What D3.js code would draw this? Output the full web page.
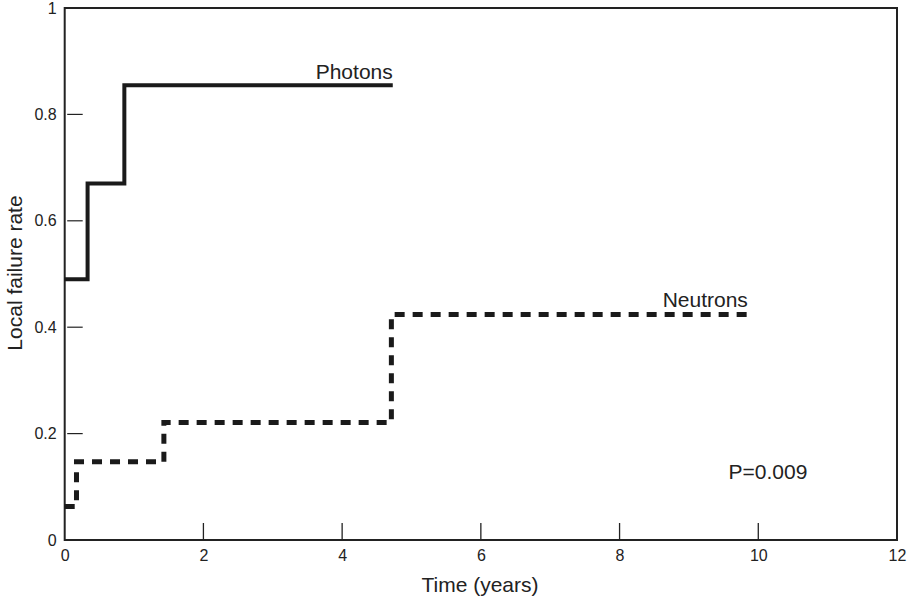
<!DOCTYPE html>
<html>
<head>
<meta charset="utf-8">
<script src="https://cdn.jsdelivr.net/npm/d3@7"></script>
<style>
  body { margin: 0; background: #fff; }
  text { font-family: "Liberation Sans", Arial, sans-serif; fill: #222; }
</style>
</head>
<body>
<svg width="909" height="602"></svg>
<script>
// step data
var photonTimes = [0, 0.33, 0.86, 4.73];
var photonRates = [0.49, 0.67, 0.855, 0.855];
var neutronTimes = [0, 0.17, 1.43, 4.71, 9.85];
var neutronRates = [0.063, 0.147, 0.221, 0.424, 0.424];

var xTicks = [0, 2, 4, 6, 8, 10, 12];
var yTicks = [0, 0.2, 0.4, 0.6, 0.8, 1];

var svg = d3.select("svg");
var ink = "#222";

var xscale = d3.scaleLinear().domain([0, 12]).range([64.7, 897]);
var yscale = d3.scaleLinear().domain([0, 1]).range([540, 8]);

// frame
svg.append("rect")
  .attr("x", xscale(0))
  .attr("y", yscale(1))
  .attr("width", xscale(12) - xscale(0))
  .attr("height", yscale(0) - yscale(1))
  .attr("fill", "none")
  .attr("stroke", ink)
  .attr("stroke-width", 2);

// x axis labels + inner ticks
var xAxis = svg.append("g")
  .attr("transform", "translate(0," + yscale(0) + ")")
  .call(d3.axisBottom(xscale).tickValues(xTicks).tickSize(0).tickPadding(10)
    .tickFormat(d3.format("d")));
xAxis.select(".domain").remove();
xAxis.selectAll("text").attr("font-size", 16).style("fill", ink);

svg.selectAll(".xtick")
  .data(xTicks.filter(function (d) { return d > 0 && d < 12; }))
  .enter().append("line")
  .attr("x1", function (d) { return xscale(d); })
  .attr("x2", function (d) { return xscale(d); })
  .attr("y1", yscale(0))
  .attr("y2", yscale(0) - 17)
  .attr("stroke", ink)
  .attr("stroke-width", 1.3);

// y axis labels + inner ticks
var yAxis = svg.append("g")
  .attr("transform", "translate(" + xscale(0) + ",0)")
  .call(d3.axisLeft(yscale).tickValues(yTicks).tickSize(0).tickPadding(8)
    .tickFormat(function (d) { return d === 0 || d === 1 ? d3.format("d")(d) : d3.format(".1f")(d); }));
yAxis.select(".domain").remove();
yAxis.selectAll("text").attr("font-size", 16).style("fill", ink);

svg.selectAll(".ytick")
  .data(yTicks.filter(function (d) { return d > 0 && d < 1; }))
  .enter().append("line")
  .attr("x1", xscale(0) + 2.5)
  .attr("x2", xscale(0) + 18)
  .attr("y1", function (d) { return yscale(d); })
  .attr("y2", function (d) { return yscale(d); })
  .attr("stroke", ink)
  .attr("stroke-width", 1.2);

// axis titles
svg.append("text")
  .attr("x", 480)
  .attr("y", 592)
  .attr("text-anchor", "middle")
  .attr("font-size", 21)
  .text("Time (years)");

svg.append("text")
  .attr("transform", "translate(22,273) rotate(-90)")
  .attr("text-anchor", "middle")
  .attr("font-size", 21)
  .text("Local failure rate");

// curves
var stepLine = d3.line()
  .x(function (d) { return xscale(d[0]); })
  .y(function (d) { return yscale(d[1]); })
  .curve(d3.curveStepAfter);

svg.append("path")
  .datum(d3.zip(photonTimes, photonRates))
  .attr("d", stepLine)
  .attr("fill", "none")
  .attr("stroke", "#1a1a1a")
  .attr("stroke-width", 4);

svg.append("path")
  .datum(d3.zip(neutronTimes, neutronRates))
  .attr("d", stepLine)
  .attr("fill", "none")
  .attr("stroke", "#1a1a1a")
  .attr("stroke-width", 5)
  .attr("stroke-dasharray", "10,8");

// labels
svg.append("text")
  .attr("x", xscale(photonTimes[photonTimes.length - 1]))
  .attr("y", 79)
  .attr("text-anchor", "end")
  .attr("font-size", 21)
  .text("Photons");

svg.append("text")
  .attr("x", xscale(neutronTimes[neutronTimes.length - 1]))
  .attr("y", 307)
  .attr("text-anchor", "end")
  .attr("font-size", 21)
  .text("Neutrons");

svg.append("text")
  .attr("x", 768)
  .attr("y", 479)
  .attr("text-anchor", "middle")
  .attr("font-size", 21)
  .text("P=0.009");
</script>
</body>
</html>
